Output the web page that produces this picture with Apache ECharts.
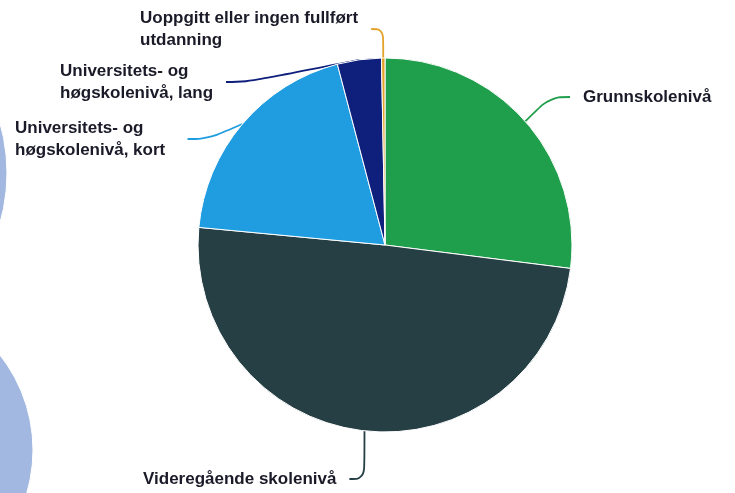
<!DOCTYPE html>
<html>
<head>
<meta charset="utf-8">
<script src="https://cdn.jsdelivr.net/npm/echarts@6/dist/echarts.min.js"></script>
<style>
  html, body { margin: 0; padding: 0; background: #fff; }
  #main { width: 735px; height: 493px; }
</style>
</head>
<body>
<div id="main"></div>
<script>
// utdanningsnivå, andel (%)
var categories = [
  'Grunnskolenivå',
  'Videregående skolenivå',
  'Universitets- og\nhøgskolenivå, kort',
  'Universitets- og\nhøgskolenivå, lang',
  'Uoppgitt eller ingen fullført\nutdanning'
];
var values = [27.0, 49.5, 19.4, 3.8, 0.3];
var colors = ['#1f9e4b', '#263f45', '#1f9de0', '#0e1f7c', '#e3a22a'];

// where each label text starts (left x, middle y)
var labelSpots = [
  [583, 97],
  [143, 479],
  [15, 139],
  [60, 82],
  [140, 29]
];
var gap = 13; // space between leader line and text

var chart = echarts.init(document.getElementById('main'), null, { renderer: 'canvas' });

chart.setOption({
  backgroundColor: '#fff',
  animation: false,
  graphic: [
    { type: 'circle', shape: { cx: -175, cy: 173, r: 182 }, style: { fill: '#a3b8e0', stroke: '#fff', lineWidth: 1 } },
    { type: 'circle', shape: { cx: -120, cy: 450, r: 153 }, style: { fill: '#a3b8e0', stroke: '#fff', lineWidth: 1 } }
  ],
  series: [{
    type: 'pie',
    center: [385, 245],
    radius: [0, 187],
    startAngle: 90,
    clockwise: true,
    itemStyle: { borderColor: '#fff', borderWidth: 1 },
    label: {
      show: true,
      color: '#1a1a28',
      fontFamily: 'Liberation Sans, Arial, sans-serif',
      fontWeight: 'bold',
      fontSize: 17,
      lineHeight: 22,
      padding: [0, gap, 0, gap],
      formatter: '{b}'
    },
    labelLine: { show: true, smooth: 0.4, length: 15, length2: 20, lineStyle: { width: 1.8 } },
    labelLayout: function (p) {
      var s = labelSpots[p.dataIndex];
      return { x: s[0] - gap, y: s[1], align: 'left', verticalAlign: 'middle' };
    },
    data: categories.map(function (c, i) {
      return { name: c, value: values[i], itemStyle: { color: colors[i] } };
    })
  }]
});
</script>
</body>
</html>
